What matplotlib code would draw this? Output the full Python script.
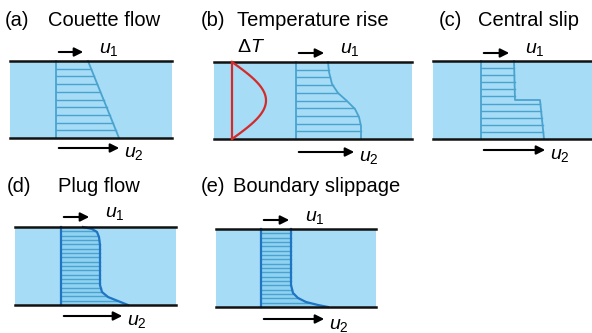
import numpy as np
import matplotlib.pyplot as plt

plt.rcParams["font.family"] = ["Liberation Sans", "DejaVu Sans"]
plt.rcParams["mathtext.fontset"] = "custom"
plt.rcParams["mathtext.rm"] = "Liberation Sans"
plt.rcParams["mathtext.it"] = "Liberation Sans:italic"

FILL = "#a6dcf5"
HATCH = "#4aa3cf"
EDGE = "#1f74c4"

# panel tags, names and positions (pixel coords, y down)
tags = ["(a)", "(b)", "(c)", "(d)", "(e)"]
names = ["Couette flow", "Temperature rise", "Central slip", "Plug flow", "Boundary slippage"]
tag_x = [5, 201, 439, 7, 201]
name_x = [48, 237, 478, 58, 233]
title_y = [20, 20, 20, 186, 186]

# channels: x0, x1, y_top, y_bot
channels = [(10, 172, 61, 138), (214, 412, 62, 139), (433, 592, 61, 139),
            (15, 176, 227, 305), (216, 376, 229, 307)]

# velocity profiles: left edge x, right edge (x, y) points, number of hatch lines
prof_left = [56, 296, 481, 61, 261]
prof_right = [
    [(88, 61), (119, 138)],
    [(328, 62), (329, 72), (332, 84), (338, 93), (347, 101), (355, 109),
     (359, 117), (361, 126), (361, 139)],
    [(514, 61), (515, 100), (540, 100), (544, 139)],
    [(83, 227), (92, 229), (97, 232), (99, 237), (100, 245), (100, 285),
     (102, 292), (108, 297), (118, 301), (128, 305)],
    [(291, 229), (291, 285), (293, 293), (298, 298), (306, 302), (318, 305), (328, 307)],
]
n_hatch = [10, 10, 11, 18, 18]
dark_edge = [False, False, False, True, True]

# flow arrows: y of u1, x end of u1, y of u2, x end of u2
u1_arrow = [(52, 86), (53, 327), (53, 512), (217, 92), (220, 292)]
u2_arrow = [(148, 122), (152, 357), (150, 548), (316, 125), (319, 327)]

# temperature profile in (b): x offset vs y
dT_base = 232
dT_peak = 266

fig = plt.figure(figsize=(5.92, 3.33), dpi=100)
ax = fig.add_axes([0, 0, 1, 1])
ax.set_xlim(0, 592)
ax.set_ylim(333, 0)
ax.axis("off")

for i in range(5):
    x0, x1, yt, yb = channels[i]
    ax.add_patch(plt.Rectangle((x0, yt), x1 - x0, yb - yt, color=FILL, lw=0, zorder=1))
    ax.plot([x0, x1], [yt, yt], color="#111111", lw=1.8, zorder=5)
    ax.plot([x0, x1], [yb, yb], color="#111111", lw=1.8, zorder=5)

    xl = prof_left[i]
    px = np.array([p[0] for p in prof_right[i]], dtype=float)
    py = np.array([p[1] for p in prof_right[i]], dtype=float)
    if dark_edge[i]:
        ax.fill(np.r_[xl, px, xl], np.r_[py[0], py, py[-1]], color="#8fd2f2", lw=0, zorder=2)
    # hatch lines across the profile
    for y in np.linspace(yt, yb, n_hatch[i] + 1)[1:-1]:
        xr = np.interp(y, py, px)
        ax.plot([xl, xr], [y, y], color=HATCH, lw=1.0, zorder=3)
    col = EDGE if dark_edge[i] else HATCH
    lw = 1.6 if dark_edge[i] else 1.3
    ax.plot([xl, xl], [yt, yb], color=col, lw=lw, zorder=4)
    ax.plot(px, py, color=col, lw=lw, zorder=4)

    # u1 / u2 arrows and labels
    ya, xa = u1_arrow[i]
    ax.annotate("", xy=(xa, ya), xytext=(xl, ya),
                arrowprops=dict(arrowstyle="-|>", color="black", lw=1.5, mutation_scale=13))
    ax.text(xa + 13, ya - 3, "$u_1$", fontsize=14, ha="left", va="center")
    ya, xa = u2_arrow[i]
    ax.annotate("", xy=(xa, ya), xytext=(xl, ya),
                arrowprops=dict(arrowstyle="-|>", color="black", lw=1.5, mutation_scale=13))
    ax.text(xa + 2, ya + 6, "$u_2$", fontsize=14, ha="left", va="center")

    ax.text(tag_x[i], title_y[i], tags[i], fontsize=14.5, ha="left", va="center")
    ax.text(name_x[i], title_y[i], names[i], fontsize=14.5, ha="left", va="center")

# temperature rise profile in (b)
yt, yb = channels[1][2], channels[1][3]
yy = np.linspace(yt, yb, 60)
s = (yy - yt) / (yb - yt)
xx = dT_base + (dT_peak - dT_base) * np.sin(np.pi * s)
ax.plot(xx, yy, color="#d42a2a", lw=1.6, zorder=6)
ax.plot([dT_base, dT_base], [yt, yb], color="#d42a2a", lw=1.6, zorder=6)
ax.text(237, 47, r"$\Delta\mathit{T}$", fontsize=14, ha="left", va="center")

fig.savefig("out.png", dpi=100)
